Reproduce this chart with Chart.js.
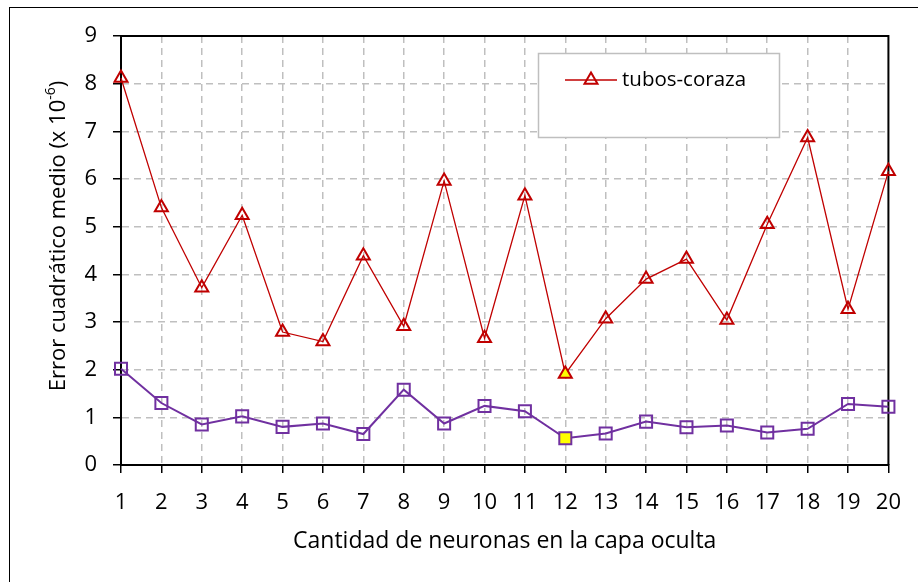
<!DOCTYPE html>
<html>
<head>
<meta charset="utf-8">
<script src="https://cdn.jsdelivr.net/npm/chart.js@4.4.0/dist/chart.umd.min.js"></script>
<style>
    html, body { margin: 0; padding: 0; background: #fff; }
    #chartContainer { width: 918px; height: 582px; }
</style>
</head>
<body>
<div id="chartContainer"><canvas id="evoChart" width="918" height="582"></canvas></div>
<script>
// Datos
const neuronas = ["1", "2", "3", "4", "5", "6", "7", "8", "9", "10",
                  "11", "12", "13", "14", "15", "16", "17", "18", "19", "20"];
const tubosCoraza = [8.12, 5.4, 3.72, 5.24, 2.79, 2.59, 4.39, 2.91, 5.96, 2.66,
                     5.65, 1.91, 3.07, 3.9, 4.32, 3.04, 5.05, 6.87, 3.27, 6.16];
const otraSerie = [2.02, 1.3, 0.85, 1.02, 0.8, 0.87, 0.65, 1.58, 0.87, 1.24,
                   1.13, 0.56, 0.66, 0.91, 0.79, 0.83, 0.68, 0.76, 1.28, 1.22];
const yMin = 0, yMax = 9, yStep = 1;

const ROJO = "#C00000";
const MORADO = "#7030A0";
const GRIS = "#BFBFBF";
const FUENTE = "'Open Sans', sans-serif";

// el mejor caso (mínimo error) va relleno de amarillo
const mejor = tubosCoraza.indexOf(Math.min(...tubosCoraza));
const relleno = neuronas.map((n, i) => i === mejor ? "#FFFF00" : "rgba(0,0,0,0)");

Chart.defaults.font.family = FUENTE;
Chart.defaults.font.size = 22;
Chart.defaults.color = "#000";

const gridSinBordes = (ultimo) => (c) => (c.index === 0 || c.index === ultimo) ? "rgba(0,0,0,0)" : GRIS;

const marco = {
    id: "marco",
    beforeDatasetsDraw(chart) {
        const {ctx, chartArea: a} = chart;
        ctx.save();
        ctx.strokeStyle = "#000";
        ctx.lineWidth = 1;
        ctx.strokeRect(9.5, 7.5, 1000, 1000);
        ctx.lineWidth = 2;
        ctx.beginPath();
        ctx.moveTo(a.left, a.top);
        ctx.lineTo(a.right, a.top);
        ctx.lineTo(a.right, a.bottom);
        ctx.stroke();
        ctx.restore();
    },
    afterDatasetsDraw(chart) {
        const {ctx} = chart;
        const ds = chart.data.datasets[0];
        ctx.save();
        // cuadro de la leyenda
        ctx.fillStyle = "#fff";
        ctx.fillRect(538.5, 53.5, 241, 84);
        ctx.strokeStyle = GRIS;
        ctx.lineWidth = 1.5;
        ctx.strokeRect(538.5, 53.5, 241, 84);
        ctx.strokeStyle = ds.borderColor;
        ctx.lineWidth = ds.borderWidth;
        ctx.beginPath();
        ctx.moveTo(565, 80);
        ctx.lineTo(617, 80);
        ctx.stroke();
        const r = ds.pointRadius, cx = 591, cy = 80;
        ctx.lineWidth = ds.pointBorderWidth;
        ctx.beginPath();
        for (let k = 0; k < 3; k++) {
            const ang = k * 2 * Math.PI / 3;
            const px = cx + Math.sin(ang) * r, py = cy - Math.cos(ang) * r;
            k === 0 ? ctx.moveTo(px, py) : ctx.lineTo(px, py);
        }
        ctx.closePath();
        ctx.stroke();
        ctx.fillStyle = "#000";
        ctx.font = "20.5px " + FUENTE;
        ctx.textBaseline = "middle";
        ctx.textAlign = "left";
        ctx.fillText(ds.label, 622, 80);
        ctx.restore();
    },
    afterDraw(chart) {
        // título del eje Y con superíndice
        const {ctx} = chart;
        const base = "Error cuadrático medio (x 10", sup = "-6", fin = ")";
        ctx.save();
        ctx.translate(59, 236);
        ctx.rotate(-Math.PI / 2);
        ctx.fillStyle = "#000";
        ctx.textBaseline = "middle";
        ctx.textAlign = "left";
        ctx.font = "22px " + FUENTE;
        const w1 = ctx.measureText(base).width, w3 = ctx.measureText(fin).width;
        ctx.font = "14px " + FUENTE;
        const w2 = ctx.measureText(sup).width;
        let x = -(w1 + w2 + w3) / 2;
        ctx.font = "22px " + FUENTE;
        ctx.fillText(base, x, 0);
        x += w1;
        ctx.font = "14px " + FUENTE;
        ctx.fillText(sup, x, -8);
        x += w2;
        ctx.font = "22px " + FUENTE;
        ctx.fillText(fin, x, 0);
        ctx.restore();
    }
};

const ctx = document.getElementById("evoChart").getContext("2d");

new Chart(ctx, {
    type: "line",
    data: {
        labels: neuronas,
        datasets: [{
            label: "tubos-coraza",
            data: tubosCoraza,
            borderColor: ROJO,
            borderWidth: 1.3,
            pointStyle: "triangle",
            pointRadius: 7.5,
            pointBorderWidth: 2,
            pointBorderColor: ROJO,
            pointBackgroundColor: relleno,
            tension: 0,
            clip: false
        }, {
            label: "serie 2",
            data: otraSerie,
            borderColor: MORADO,
            borderWidth: 2,
            pointStyle: "rect",
            pointRadius: 8.5,
            pointBorderWidth: 2,
            pointBorderColor: MORADO,
            pointBackgroundColor: relleno,
            tension: 0,
            clip: false
        }]
    },
    options: {
        responsive: false,
        animation: false,
        layout: { padding: { top: 36, right: 29, left: 0, bottom: 0 } },
        plugins: {
            legend: { display: false },
            tooltip: { enabled: false }
        },
        scales: {
            x: {
                offset: false,
                grid: {
                    color: gridSinBordes(neuronas.length - 1),
                    lineWidth: 1.5,
                    tickColor: "#000",
                    tickLength: 8,
                    tickWidth: 1.5,
                    tickBorderDash: []
                },
                border: { color: "#000", width: 2, dash: [7, 5] },
                ticks: { padding: 17, maxRotation: 0, autoSkip: false },
                title: {
                    display: true,
                    text: "Cantidad de neuronas en la capa oculta",
                    font: { size: 23 },
                    padding: { top: 0, bottom: 27 }
                },
                afterFit: s => { s.height = 117; }
            },
            y: {
                min: yMin,
                max: yMax,
                grid: {
                    color: gridSinBordes((yMax - yMin) / yStep),
                    lineWidth: 1.5,
                    tickColor: "#000",
                    tickLength: 8,
                    tickWidth: 1.5,
                    tickBorderDash: []
                },
                border: { color: "#000", width: 2, dash: [7, 5] },
                ticks: { stepSize: yStep, padding: 16 },
                afterFit: s => { s.width = 121; }
            }
        }
    },
    plugins: [marco]
});
</script>
</body>
</html>
